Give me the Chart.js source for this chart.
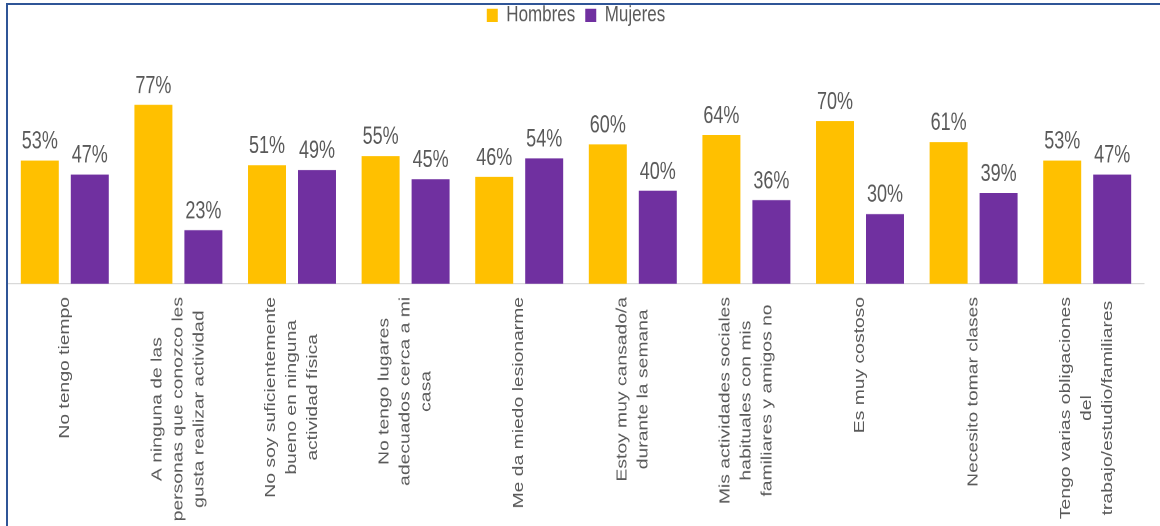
<!DOCTYPE html>
<html>
<head>
<meta charset="utf-8">
<script src="https://cdn.jsdelivr.net/npm/chart.js@4.4.1/dist/chart.umd.min.js"></script>
<style>
  html, body { margin: 0; padding: 0; background: #fff; overflow: hidden; }
  #frame {
    position: absolute; left: 6px; top: 3px; width: 1160px; height: 530px;
    border-top: 2px solid #2f5597; border-left: 2px solid #2f5597;
    pointer-events: none;
  }
  /* the source picture is stretched vertically, so draw at 395px and stretch */
  #wrap {
    position: absolute; left: 0; top: 0; width: 1160px; height: 395px;
    transform: scaleY(1.3316); transform-origin: 0 0;
  }
</style>
</head>
<body>
<div id="wrap"><canvas id="motivosChart"></canvas></div>
<div id="frame"></div>
<script>
const categories = [
    ["No tengo tiempo"],
    ["A ninguna de las", "personas que conozco les", "gusta realizar actividad"],
    ["No soy suficientemente", "bueno en ninguna", "actividad física"],
    ["No tengo lugares", "adecuados cerca a mi", "casa"],
    ["Me da miedo lesionarme"],
    ["Estoy muy cansado/a", "durante la semana"],
    ["Mis actividades sociales", "habituales con mis", "familiares y amigos no"],
    ["Es muy costoso"],
    ["Necesito tomar clases"],
    ["Tengo varias obligaciones", "del", "trabajo/estudio/familiares"]
];
const hombres = [53, 77, 51, 55, 46, 60, 64, 70, 61, 53];
const mujeres = [47, 23, 49, 45, 54, 40, 36, 30, 39, 47];

const textColor = "#595959";
const fontFamily = "'Liberation Sans', Arial, sans-serif";

// percentage on top of each bar
const valueLabels = {
    id: "valueLabels",
    afterDatasetsDraw(chart) {
        const ctx = chart.ctx;
        ctx.save();
        ctx.font = "18px " + fontFamily;
        ctx.fillStyle = textColor;
        ctx.textAlign = "center";
        ctx.textBaseline = "alphabetic";
        chart.data.datasets.forEach((ds, i) => {
            chart.getDatasetMeta(i).data.forEach((bar, j) => {
                ctx.fillText(ds.data[j] + "%", bar.x, bar.y - 9);
            });
        });
        ctx.restore();
    }
};

// vertical category labels, lines centred on each other
const verticalLabels = {
    id: "verticalLabels",
    afterDraw(chart) {
        const ctx = chart.ctx;
        const xScale = chart.scales.x;
        const top = chart.chartArea.bottom + 10;
        const lineHeight = 21;
        ctx.save();
        ctx.font = "14.5px " + fontFamily;
        ctx.fillStyle = textColor;
        ctx.textAlign = "center";
        ctx.textBaseline = "middle";
        categories.forEach((lines, i) => {
            const cx = xScale.getPixelForValue(i);
            const maxLen = Math.max(...lines.map(l => ctx.measureText(l).width));
            ctx.save();
            ctx.translate(cx, top);
            ctx.rotate(-Math.PI / 2);
            lines.forEach((line, k) => {
                ctx.fillText(line, -maxLen / 2, (k - (lines.length - 1) / 2) * lineHeight);
            });
            ctx.restore();
        });
        ctx.restore();
    }
};

new Chart(document.getElementById("motivosChart"), {
    type: "bar",
    data: {
        labels: categories,
        datasets: [{
            label: "Hombres",
            data: hombres,
            backgroundColor: "#ffc000",
            barPercentage: 0.76,
            categoryPercentage: 0.88
        }, {
            label: "Mujeres",
            data: mujeres,
            backgroundColor: "#7030a0",
            barPercentage: 0.76,
            categoryPercentage: 0.88
        }]
    },
    options: {
        responsive: true,
        maintainAspectRatio: false,
        animation: false,
        devicePixelRatio: 2,
        layout: {
            padding: { top: -7, left: 8, right: 16, bottom: 182 }
        },
        plugins: {
            legend: {
                display: true,
                position: "top",
                labels: {
                    boxWidth: 11,
                    boxHeight: 10,
                    padding: 10,
                    color: textColor,
                    font: { size: 17, family: fontFamily }
                }
            },
            tooltip: { enabled: false }
        },
        scales: {
            x: {
                grid: { display: false, drawTicks: false },
                border: { display: true, color: "#d9d9d9", width: 1 },
                ticks: { display: false }
            },
            y: {
                display: false,
                min: 0,
                max: 105
            }
        }
    },
    plugins: [valueLabels, verticalLabels]
});
</script>
</body>
</html>
